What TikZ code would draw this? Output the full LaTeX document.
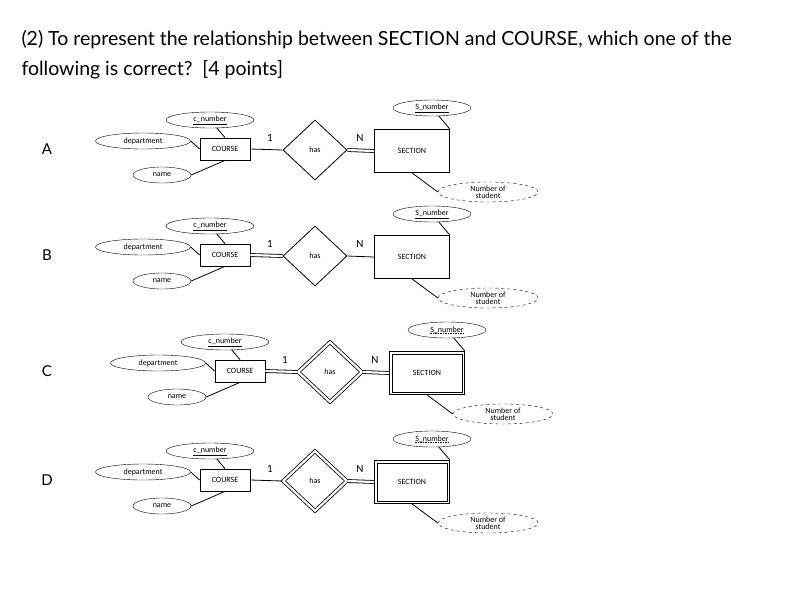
\documentclass[tikz,border=0pt]{standalone}
\usepackage{fontspec}
\setmainfont{Carlito}
\newfontfamily\titlefont{Lato}
\usetikzlibrary{shapes.geometric}
\newcommand\ulx[1]{\tikz[baseline=(t.base)]{\node[inner sep=0pt,outer sep=0pt,draw=none,minimum width=0pt,minimum height=0pt,shape=rectangle](t){#1};\draw[line width=0.5pt,dash pattern=on 1.5pt off 1pt] ([yshift=-1.2pt]t.base west) -- ([yshift=-1.2pt]t.base east);}}
\tikzset{
  ent/.style={draw,thick,minimum width=#1,minimum height=22pt,inner sep=1pt,font=\fontsize{8}{9}\selectfont},
  attr/.style={draw,ellipse,minimum width=#1,minimum height=16pt,inner sep=0pt,font=\fontsize{8}{9}\selectfont},
  rel/.style={draw,thick,diamond,minimum width=64pt,minimum height=60pt,inner sep=0pt,aspect=1.07,font=\fontsize{8}{9}\selectfont},
  lnk/.style={thick},
  dbl/.style={double,double distance=2.2pt,thick},
  weakrel/.style={double,double distance=2.2pt},
  card/.style={font=\fontsize{11}{12}\selectfont},
  letter/.style={font=\titlefont\fontsize{15}{16}\selectfont}
}
\newcommand\errow[8]{%
\begin{scope}[shift={(#2,#3)}]
 \node[letter] (L#1) at (47-#2,149) {#1};
 \node[ent=50pt] (co#1) at (225,149) {COURSE};
 \node[attr=88pt] (cn#1) at (210,120) {\underline{c\_number}};
 \node[attr=95pt] (de#1) at (143,141) {department};
 \node[attr=58pt] (na#1) at (162,175) {name};
 \node[rel,#6] (ha#1) at (315,150) {has};
 \node[ent=75pt,minimum height=43pt] (se#1) at (412,151) {SECTION};
 #8
 \node[attr=78pt] (sn#1) at (432,108) {#7};
 \node[attr=100pt,minimum height=20pt,dashed,align=center,font=\fontsize{8}{7.5}\selectfont] (ns#1) at (488,192) {Number of\\student};
 \draw[lnk] (cn#1) -- (co#1.north);
 \draw[lnk] (de#1.east) -- (co#1.west);
 \draw[lnk] (na#1.east) -- (co#1.south);
 \draw[lnk] (sn#1) -- (se#1.north east);
 \draw[lnk] (se#1.south) -- (ns#1.west);
 \draw[#4] (co#1.east) -- (ha#1.west);
 \draw[#5] (ha#1.east) -- (se#1.west);
 \node[card] at (270,138) {1};
 \node[card] at (360,138) {N};
\end{scope}}
\newcommand\weakbox[1]{\draw[thick] ([xshift=3pt,yshift=-3pt]#1.north west) rectangle ([xshift=-3pt,yshift=3pt]#1.south east);}
\begin{document}
\begin{tikzpicture}[x=1pt,y=-1pt]
\useasboundingbox (0,0) rectangle (795,590);
\node[anchor=west,align=left,font=\titlefont\fontsize{19.5}{30}\selectfont] (title) at (18,55)
 {(2) To represent the relationship between SECTION and COURSE, which one of the\\following is correct?\enskip [4 points]};
\errow{A}{0}{0}{lnk}{dbl}{}{\underline{S\_number}}{}
\errow{B}{0}{106}{dbl}{lnk}{}{\underline{S\_number}}{}
\errow{C}{15}{222}{dbl}{dbl}{weakrel}{\ulx{S\_number}}{\weakbox{seC}}
\errow{D}{0}{331}{lnk}{dbl}{weakrel}{\ulx{S\_number}}{\weakbox{seD}}
\end{tikzpicture}
\end{document}
